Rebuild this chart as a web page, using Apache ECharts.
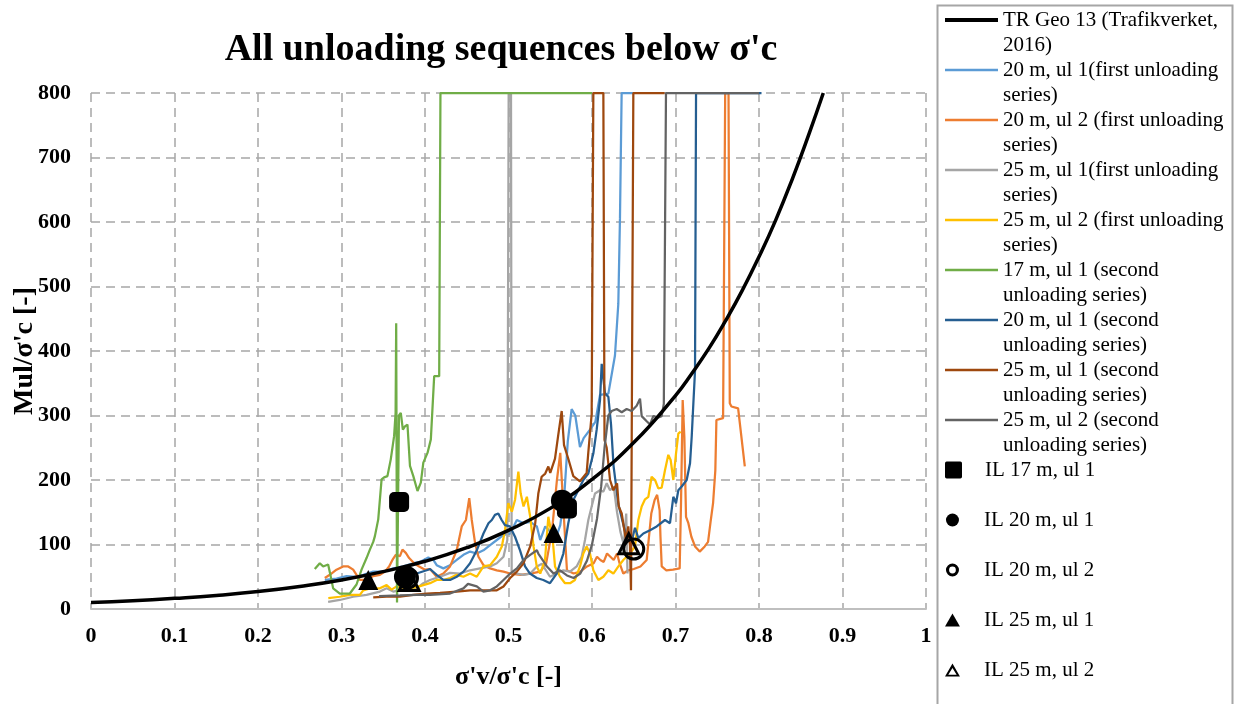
<!DOCTYPE html>
<html>
<head>
<meta charset="utf-8">
<script src="https://cdn.jsdelivr.net/npm/echarts@6/dist/echarts.min.js"></script>
<style>
  html, body { margin: 0; padding: 0; background: #fff; }
  #chart { width: 1240px; height: 704px; }
</style>
</head>
<body>
<div id="chart"></div>
<script>
// Axis ticks
const xTicks = [0, 0.1, 0.2, 0.3, 0.4, 0.5, 0.6, 0.7, 0.8, 0.9, 1];
const xTickLabels = ['0', '0.1', '0.2', '0.3', '0.4', '0.5', '0.6', '0.7', '0.8', '0.9', '1'];
const yTicks = [0, 100, 200, 300, 400, 500, 600, 700, 800];
const yTickLabels = ['0', '100', '200', '300', '400', '500', '600', '700', '800'];

// TR Geo 13 reference curve (σ'v/σ'c, Mul/σ'c)
const trGeoX = [0, 0.05, 0.1, 0.15, 0.2, 0.25, 0.3, 0.35, 0.4, 0.45, 0.5, 0.55, 0.6, 0.65, 0.7, 0.72, 0.74, 0.76, 0.78, 0.8, 0.82, 0.84, 0.86, 0.877];
const trGeoY = [10, 12.8, 16.5, 21, 27, 35, 45, 58, 74, 95, 122, 156, 201, 258, 331, 366, 404, 447, 494, 546, 603, 667, 737, 800];

// Measured unloading sequences, [σ'v/σ'c, Mul/σ'c]; values above 800 are held at the axis top
const m20ul1First = [[0.280,45],[0.294,47],[0.306,51],[0.318,50],[0.326,53],[0.338,58],[0.350,58],[0.362,63],[0.374,66],[0.386,71],[0.394,73],[0.404,80],[0.410,76],[0.414,68],[0.422,63],[0.430,68],[0.438,76],[0.446,84],[0.454,89],[0.462,86],[0.470,91],[0.478,99],[0.486,107],[0.494,115],[0.502,117],[0.510,138],[0.518,133],[0.526,135],[0.534,128],[0.538,107],[0.544,128],[0.550,120],[0.556,107],[0.562,130],[0.567,180],[0.571,260],[0.5756,310],[0.580,300],[0.5856,251],[0.590,265],[0.5976,278],[0.604,290],[0.6096,332],[0.6196,334],[0.6275,393],[0.6315,473],[0.6335,606],[0.6355,800],[0.650,800]];
const m20ul2First = [[0.280,48],[0.286,53],[0.294,61],[0.302,66],[0.308,66],[0.314,61],[0.318,53],[0.322,45],[0.330,45],[0.338,51],[0.346,53],[0.352,58],[0.357,66],[0.361,76],[0.365,84],[0.370,82],[0.373,92],[0.377,87],[0.381,79],[0.387,71],[0.393,66],[0.400,61],[0.406,62],[0.414,50],[0.422,55],[0.430,66],[0.438,91],[0.444,128],[0.449,138],[0.453,172],[0.456,138],[0.460,102],[0.464,81],[0.470,68],[0.478,63],[0.486,60],[0.494,58],[0.502,55],[0.514,53],[0.526,55],[0.538,58],[0.545,70],[0.552,120],[0.558,200],[0.562,242],[0.566,150],[0.570,60],[0.578,55],[0.586,58],[0.594,66],[0.602,71],[0.606,81],[0.610,76],[0.614,73],[0.618,86],[0.622,81],[0.626,76],[0.630,86],[0.633,71],[0.6375,55],[0.6435,60],[0.650,62],[0.658,66],[0.6655,76],[0.671,148],[0.675,169],[0.678,177],[0.681,153],[0.682,112],[0.6835,66],[0.689,60],[0.697,61],[0.705,63],[0.7066,164],[0.7086,324],[0.7106,267],[0.7126,143],[0.7154,133],[0.719,112],[0.7234,97],[0.729,89],[0.735,97],[0.739,104],[0.742,135],[0.745,164],[0.7477,215],[0.749,293],[0.757,296],[0.7595,800],[0.7635,800],[0.765,319],[0.767,314],[0.775,311],[0.777,308],[0.783,221]];
const m25ul1First = [[0.284,11],[0.298,14],[0.314,19],[0.330,22],[0.346,27],[0.354,32],[0.362,27],[0.378,32],[0.390,32],[0.398,40],[0.406,45],[0.418,50],[0.430,56],[0.442,55],[0.454,60],[0.466,63],[0.478,66],[0.486,71],[0.494,81],[0.4986,107],[0.5002,800],[0.503,800],[0.5038,58],[0.510,55],[0.518,53],[0.526,55],[0.534,66],[0.540,70],[0.5497,50],[0.5576,55],[0.5657,60],[0.5737,58],[0.5816,66],[0.5876,81],[0.5916,107],[0.5956,138],[0.5996,159],[0.6036,179],[0.6096,184],[0.6136,182],[0.6176,195],[0.6216,184],[0.626,190],[0.630,150],[0.634,120],[0.638,100],[0.641,148],[0.6425,55]];
const m25ul2First = [[0.2842,17],[0.298,19],[0.310,22],[0.322,22],[0.326,29],[0.334,32],[0.346,32],[0.354,37],[0.360,30],[0.366,35],[0.378,32],[0.390,34],[0.406,40],[0.414,45],[0.422,45],[0.430,48],[0.438,53],[0.446,50],[0.454,55],[0.462,50],[0.470,66],[0.478,68],[0.486,81],[0.492,97],[0.4958,122],[0.4998,164],[0.504,151],[0.5078,169],[0.5118,213],[0.5146,179],[0.518,159],[0.522,174],[0.526,143],[0.530,97],[0.5338,66],[0.538,55],[0.5437,76],[0.5477,143],[0.550,146],[0.553,107],[0.5557,66],[0.5617,50],[0.5677,40],[0.5737,40],[0.5796,45],[0.5856,66],[0.5896,86],[0.5936,97],[0.5976,86],[0.6016,60],[0.6076,45],[0.6136,50],[0.6196,60],[0.6256,55],[0.6316,66],[0.6375,76],[0.6455,86],[0.6515,97],[0.6555,138],[0.6595,159],[0.6635,170],[0.6675,174],[0.6714,205],[0.6755,200],[0.6794,187],[0.6834,188],[0.6874,215],[0.6914,239],[0.6942,231],[0.6974,200],[0.7006,241],[0.7034,272],[0.7062,275]];
const m17ul1Second = [[0.268,62],[0.274,71],[0.278,66],[0.284,69],[0.287,51],[0.290,32],[0.298,24],[0.310,24],[0.318,38],[0.324,61],[0.330,79],[0.334,92],[0.338,104],[0.340,113],[0.344,139],[0.348,201],[0.351,204],[0.355,206],[0.359,232],[0.363,268],[0.3648,304],[0.3655,443],[0.3665,10],[0.3678,12],[0.3688,300],[0.371,304],[0.3735,278],[0.376,283],[0.379,286],[0.382,222],[0.386,206],[0.391,183],[0.395,196],[0.398,227],[0.403,242],[0.407,263],[0.411,361],[0.417,361],[0.4185,800],[0.600,800]];
const m20ul1Second = [[0.372,60],[0.378,59],[0.390,55],[0.402,60],[0.406,62],[0.414,53],[0.422,45],[0.430,45],[0.438,50],[0.446,58],[0.454,71],[0.462,91],[0.470,117],[0.476,133],[0.480,138],[0.4838,146],[0.4878,148],[0.4918,138],[0.4958,130],[0.5018,128],[0.5078,112],[0.5138,91],[0.5198,66],[0.5257,55],[0.5338,48],[0.5417,45],[0.5497,40],[0.5577,55],[0.5657,86],[0.5716,133],[0.5776,169],[0.5836,184],[0.5896,200],[0.5956,210],[0.6016,241],[0.6056,278],[0.6096,324],[0.6116,380],[0.6156,334],[0.6196,329],[0.6228,286],[0.6258,222],[0.6315,163],[0.6375,131],[0.6415,110],[0.6475,105],[0.6515,126],[0.6555,110],[0.6615,117],[0.6695,122],[0.6775,128],[0.6874,138],[0.6934,133],[0.6974,174],[0.7006,164],[0.7034,184],[0.7074,190],[0.7134,200],[0.7174,226],[0.7194,267],[0.7214,319],[0.7234,370],[0.7246,800],[0.803,800]];
const m25ul1Second = [[0.338,18],[0.354,19],[0.370,19],[0.386,22],[0.402,24],[0.418,25],[0.438,27],[0.454,29],[0.470,29],[0.486,29],[0.494,35],[0.502,48],[0.510,58],[0.518,71],[0.526,97],[0.532,133],[0.5357,179],[0.5397,205],[0.544,210],[0.5477,221],[0.550,211],[0.5557,233],[0.5596,270],[0.5637,307],[0.5665,254],[0.5716,233],[0.5776,206],[0.5856,198],[0.5936,211],[0.5956,243],[0.5996,302],[0.6016,800],[0.6136,800],[0.6150,262],[0.6176,250],[0.6216,200],[0.6256,184],[0.630,195],[0.632,159],[0.6356,148],[0.638,128],[0.6407,107],[0.6435,128],[0.6455,97],[0.6467,29],[0.649,27],[0.6495,800],[0.687,800]];
const m25ul2Second = [[0.345,20],[0.370,21],[0.390,22],[0.406,22],[0.430,24],[0.446,32],[0.4515,39],[0.462,35],[0.470,27],[0.478,29],[0.486,35],[0.494,45],[0.502,55],[0.510,63],[0.518,76],[0.526,84],[0.534,91],[0.5357,86],[0.546,66],[0.554,55],[0.5617,60],[0.570,52],[0.578,48],[0.586,55],[0.594,75],[0.600,100],[0.606,140],[0.611,190],[0.615,250],[0.6196,300],[0.6236,307],[0.6296,310],[0.6356,305],[0.6415,310],[0.6475,307],[0.6535,315],[0.6575,326],[0.6595,299],[0.6655,291],[0.6695,286],[0.6734,299],[0.6794,297],[0.6834,299],[0.686,318],[0.6886,800],[0.800,800]];

// Incremental loading (IL) test points
const il17ul1 = [[0.369,166],[0.570,156]];
const il20ul1 = [[0.376,50],[0.564,168]];
const il20ul2 = [[0.379,48],[0.650,93]];
const il25ul1 = [[0.332,45],[0.554,118]];
const il25ul2 = [[0.381,44],[0.644,101]];

// Series names and their wrapped legend text
const lineNames = [
  'TR Geo 13 (Trafikverket, 2016)',
  '20 m, ul 1(first unloading series)',
  '20 m, ul 2 (first unloading series)',
  '25 m, ul 1(first unloading series)',
  '25 m, ul 2 (first unloading series)',
  '17 m, ul 1 (second unloading series)',
  '20 m, ul 1 (second unloading series)',
  '25 m, ul 1 (second unloading series)',
  '25 m, ul 2 (second unloading series)'
];
const lineLegendText = [
  'TR Geo 13 (Trafikverket,\n2016)',
  '20 m, ul 1(first unloading\nseries)',
  '20 m, ul 2 (first unloading\nseries)',
  '25 m, ul 1(first unloading\nseries)',
  '25 m, ul 2 (first unloading\nseries)',
  '17 m, ul 1 (second\nunloading series)',
  '20 m, ul 1 (second\nunloading series)',
  '25 m, ul 1 (second\nunloading series)',
  '25 m, ul 2 (second\nunloading series)'
];
const markerNames = ['IL 17 m, ul 1', 'IL 20 m, ul 1', 'IL 20 m, ul 2', 'IL 25 m, ul 1', 'IL 25 m, ul 2'];

const lineColors = ['#000000', '#5B9BD5', '#ED7D31', '#A5A5A5', '#FFC000', '#70AD47', '#255E91', '#9E480E', '#636363'];
const measured = [m20ul1First, m20ul2First, m25ul1First, m25ul2First, m17ul1Second, m20ul1Second, m25ul1Second, m25ul2Second];

const serif = '"Liberation Serif", "Times New Roman", "DejaVu Serif", serif';

const chart = echarts.init(document.getElementById('chart'), null, { renderer: 'canvas' });

const series = [];
measured.forEach((d, i) => {
  series.push({
    name: lineNames[i + 1],
    type: 'line',
    data: d,
    showSymbol: false,
    symbol: 'none',
    z: 2 + i * 0.01,
    lineStyle: { color: lineColors[i + 1], width: 2.25 },
    itemStyle: { color: lineColors[i + 1] }
  });
});
series.push({
  name: lineNames[0],
  type: 'line',
  data: trGeoX.map((x, i) => [x, trGeoY[i]]),
  smooth: true,
  showSymbol: false,
  symbol: 'none',
  z: 3,
  lineStyle: { color: '#000', width: 3.5 },
  itemStyle: { color: '#000' }
});

const solid = { color: '#000', borderWidth: 0, opacity: 1 };
const hollow = { color: 'rgba(0,0,0,0)', borderColor: '#000', borderWidth: 3, opacity: 1 };
const markerDefs = [
  { data: il17ul1, symbol: 'roundRect', size: 20, style: solid },
  { data: il20ul1, symbol: 'circle', size: 22, style: solid },
  { data: il20ul2, symbol: 'circle', size: 20, style: hollow },
  { data: il25ul1, symbol: 'triangle', size: 20, style: solid },
  { data: il25ul2, symbol: 'triangle', size: 20, style: hollow }
];
markerDefs.forEach((m, i) => {
  series.push({
    name: markerNames[i],
    type: 'scatter',
    data: m.data,
    symbol: m.symbol,
    symbolSize: m.size,
    z: 5,
    itemStyle: m.style
  });
});

// Legend icons
const lineIcon = 'path://M0,0H53V2.5H0Z';
const thickLineIcon = 'path://M0,0H53V4H0Z';
const squareIcon = 'path://M2,0H18Q20,0 20,2V18Q20,20 18,20H2Q0,20 0,18V2Q0,0 2,0Z';
const triIcon = 'path://M50,0L100,87L0,87Z';
const openTriIcon = 'path://M50,0L100,87L0,87Z M50,30L22,75L78,75Z';
const ringIcon = 'path://M50,0A50,50 0 1,1 49.99,0Z M50,24A26,26 0 1,0 50.01,24Z';

const legendText = { fontFamily: serif, fontSize: 21, lineHeight: 25, color: '#000' };
const nameToText = {};
lineNames.forEach((n, i) => { nameToText[n] = '\n' + lineLegendText[i]; });

const option = {
  animation: false,
  backgroundColor: '#fff',
  title: {
    text: "All unloading sequences below σ'c",
    left: 496,
    textAlign: 'center',
    top: 26,
    textStyle: { fontFamily: serif, fontWeight: 'bold', fontSize: 38, color: '#000' }
  },
  grid: { left: 91, top: 93, width: 835, height: 516, containLabel: false },
  legend: [
    {
      data: lineNames.map((n, i) => ({ name: n, icon: i === 0 ? thickLineIcon : lineIcon })),
      orient: 'vertical',
      left: 945,
      top: -17.5,
      padding: 0,
      itemWidth: 53,
      itemHeight: 14,
      itemGap: -25,
      selectedMode: false,
      formatter: n => nameToText[n],
      textStyle: legendText
    },
    {
      data: [{ name: markerNames[0], icon: squareIcon }],
      orient: 'vertical',
      left: 945,
      top: 457.5,
      padding: 0,
      itemWidth: 53,
      itemHeight: 17,
      selectedMode: false,
      itemStyle: { color: '#000', borderWidth: 0, opacity: 1 },
      textStyle: legendText
    },
    {
      data: [
        { name: markerNames[1], icon: 'circle' },
        { name: markerNames[2], icon: ringIcon },
        { name: markerNames[3], icon: triIcon },
        { name: markerNames[4], icon: openTriIcon }
      ],
      orient: 'vertical',
      left: 945,
      top: 507.5,
      padding: 0,
      itemWidth: 53,
      itemHeight: 13,
      itemGap: 25,
      selectedMode: false,
      itemStyle: { color: '#000', borderWidth: 0, opacity: 1 },
      textStyle: legendText
    }
  ],
  graphic: [
    {
      type: 'rect',
      shape: { x: 937.5, y: 5.5, width: 295, height: 720 },
      style: { fill: 'none', stroke: '#A6A6A6', lineWidth: 2 },
      silent: true,
      z: -1
    }
  ],
  xAxis: {
    type: 'value',
    min: xTicks[0],
    max: xTicks[xTicks.length - 1],
    interval: xTicks[1] - xTicks[0],
    name: "σ'v/σ'c [-]",
    nameLocation: 'middle',
    nameGap: 55,
    nameMoveOverlap: false,
    nameTextStyle: { fontFamily: serif, fontWeight: 'bold', fontSize: 26, color: '#000' },
    axisLine: { show: true, onZero: false, lineStyle: { color: '#BFBFBF', width: 2 } },
    axisTick: { show: false },
    axisLabel: {
      margin: 16,
      fontFamily: serif, fontWeight: 'bold', fontSize: 22, color: '#000',
      formatter: v => xTickLabels[Math.round((v - xTicks[0]) / (xTicks[1] - xTicks[0]))]
    },
    splitLine: { show: true, lineStyle: { color: '#A6A6A6', width: 1.5, type: [9, 6] } }
  },
  yAxis: {
    type: 'value',
    min: yTicks[0],
    max: yTicks[yTicks.length - 1],
    interval: yTicks[1] - yTicks[0],
    name: "Mul/σ'c [-]",
    nameLocation: 'middle',
    nameGap: 52,
    nameMoveOverlap: false,
    nameTextStyle: { fontFamily: serif, fontWeight: 'bold', fontSize: 28, color: '#000' },
    axisLine: { show: false },
    axisTick: { show: false },
    axisLabel: {
      margin: 20,
      fontFamily: serif, fontWeight: 'bold', fontSize: 22, color: '#000',
      formatter: v => yTickLabels[Math.round((v - yTicks[0]) / (yTicks[1] - yTicks[0]))]
    },
    splitLine: { show: true, lineStyle: { color: '#A6A6A6', width: 1.5, type: [9, 6] } }
  },
  series: series
};

chart.setOption(option);
</script>
</body>
</html>
